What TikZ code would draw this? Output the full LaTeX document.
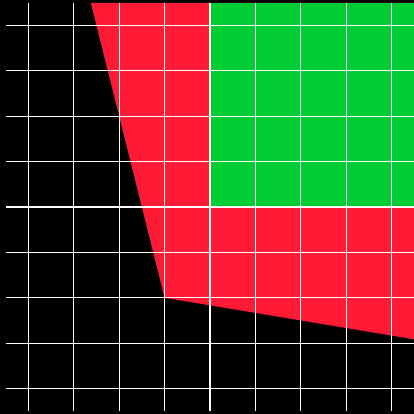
\documentclass[tikz,border=0pt]{standalone}
\definecolor{regred}{RGB}{255,26,53}
\definecolor{reggreen}{RGB}{0,204,51}
\begin{document}
\begin{tikzpicture}[x=45.375pt,y=45.375pt,
  gridline/.style={white,line width=1.1pt},
  axisline/.style={white,line width=1.8pt}]
\fill[black] (-4.628,-4.562) rectangle (4.496,4.562);
\useasboundingbox (-4.628,-4.562) rectangle (4.496,4.562);
\fill[regred] (-2.625,4.5) -- (-1,-2) -- (4.5,-2.9167) -- (4.5,4.5) -- cycle;
\fill[reggreen] (0,0) rectangle (4.5,4.5);
\foreach \i in {-4,-3,-2,-1,1,2,3,4} {
  \draw[gridline] (\i,-4.5) -- (\i,4.5);
  \draw[gridline] (-4.5,\i) -- (4.5,\i);
}
\draw[axisline] (0,-4.5) -- (0,4.5);
\draw[axisline] (-4.5,0) -- (4.5,0);
\end{tikzpicture}
\end{document}
